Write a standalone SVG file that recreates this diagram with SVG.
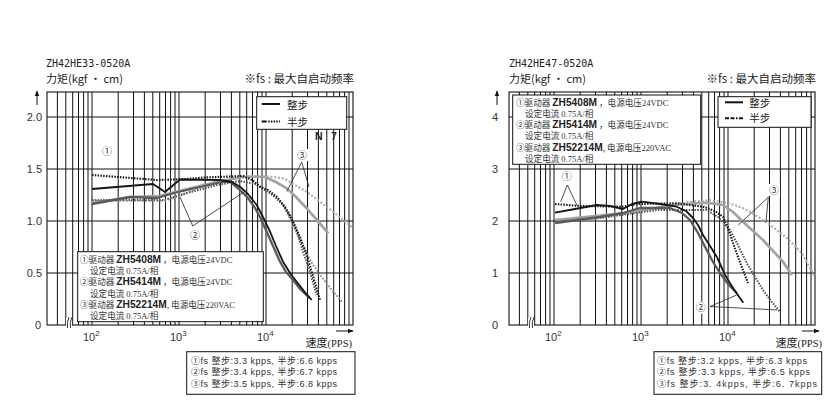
<svg xmlns="http://www.w3.org/2000/svg" xmlns:xlink="http://www.w3.org/1999/xlink" width="840" height="400" viewBox="0 0 840 400">
<style>
.bg{fill:#fff}
.frame{fill:none;stroke:#111;stroke-width:1.1}
.grid{fill:none;stroke:#111;stroke-width:1}
.box{fill:#fff;stroke:#111;stroke-width:1}
.c1s{fill:none;stroke:#151515;stroke-width:1.8;stroke-linejoin:round}
.c2s{fill:none;stroke:#5a5a5a;stroke-width:2.3;stroke-linejoin:round}
.c3s{fill:none;stroke:#a3a3a3;stroke-width:2.7;stroke-linejoin:round}
.c1d{fill:none;stroke:#151515;stroke-width:2.1;stroke-dasharray:1.5 1.3}
.c2d{fill:none;stroke:#555;stroke-width:2.1;stroke-dasharray:1.5 1.3}
.c4d{fill:none;stroke:#8a8a8a;stroke-width:1.9;stroke-dasharray:1.6 1.6}
.c3d{fill:none;stroke:#ababab;stroke-width:2.1;stroke-dasharray:2 1.8}
.ptr{fill:none;stroke:#222;stroke-width:0.8}
.t{font-family:"Liberation Sans","Noto Sans CJK SC",sans-serif;fill:#222}
.ttl{font-family:"DejaVu Sans Mono","Liberation Mono",monospace;font-size:10px;fill:#222}
.ax{font-family:"Liberation Sans",sans-serif;font-size:11px;fill:#333}
.cj{font-family:"Noto Sans CJK SC","Liberation Sans",sans-serif;fill:#222}
.lg{font-family:"Noto Sans CJK SC","Liberation Sans",sans-serif;font-size:8.6px;fill:#333}
.mdl{font-family:"Liberation Sans",sans-serif;font-weight:bold;font-size:10.2px;fill:#222}
.sf{font-family:"Liberation Serif",serif;font-size:8.5px}
.fs{font-family:"Liberation Sans","Noto Sans CJK SC",sans-serif;font-size:9px;fill:#333}
.cn{font-family:"Noto Sans CJK SC",sans-serif;font-size:10px;fill:#333;text-anchor:middle}
.arr{fill:none;stroke:#111;stroke-width:1}
</style>
<defs>
<marker id="ah" viewBox="0 0 10 10" refX="9" refY="5" markerWidth="6" markerHeight="6" orient="auto" markerUnits="userSpaceOnUse">
<path d="M0,1 L10,5 L0,9 z" fill="#111"/>
</marker>
<g id="grid">
<path class="grid" d="M57.4,92V325M65.8,92V325M72.7,92V325M78.5,92V325M83.6,92V325M88,92V325M92,92V325M118.2,92V325M133.5,92V325M144.4,92V325M152.8,92V325M159.7,92V325M165.5,92V325M170.6,92V325M175,92V325M179,92V325M205.2,92V325M220.5,92V325M231.4,92V325M239.8,92V325M246.7,92V325M252.5,92V325M257.6,92V325M262,92V325M266,92V325M292.2,92V325M307.5,92V325M318.4,92V325M326.8,92V325M333.7,92V325M339.5,92V325M344.6,92V325M349,92V325"/>
<path class="grid" d="M47,117H353M47,169H353M47,221H353M47,273H353"/>
<rect class="frame" x="47" y="92" width="306" height="233"/>
</g>
</defs>
<rect class="bg" x="0" y="0" width="840" height="400"/>

<!-- LEFT CHART -->
<g id="chart-left">
<text class="ttl" x="46" y="66.5">ZH42HE33-0520A</text>
<text class="cj" x="46" y="82.5" font-size="11">力矩(kgf · cm)</text>
<text class="cj" x="354" y="82.5" font-size="11.5" text-anchor="end">※fs : 最大自启动频率</text>
<use xlink:href="#grid"/>
<path class="arr" d="M37,105V91" marker-end="url(#ah)"/>
<g class="ax" text-anchor="end">
<text x="42" y="121">2.0</text>
<text x="42" y="173">1.5</text>
<text x="42" y="225">1.0</text>
<text x="42" y="277">0.5</text>
<text x="41" y="329">0</text>
</g>
<g class="ax">
<text x="83" y="341">10<tspan font-size="8" dy="-5">2</tspan></text>
<text x="170" y="341">10<tspan font-size="8" dy="-5">3</tspan></text>
<text x="257" y="341">10<tspan font-size="8" dy="-5">4</tspan></text>
</g>
<path class="arr" d="M336,331H353" marker-end="url(#ah)"/>
<text class="cj" x="352" y="347" font-size="11" text-anchor="end">速度<tspan font-family="Liberation Serif" font-size="10.5">(PPS)</tspan></text>
<g id="break-left">
<rect x="66" y="318" width="6" height="10" fill="#fff"/>
<path d="M67.5,328 Q66.5,322 69,317 M70.5,328 Q69.5,322 72,317" fill="none" stroke="#222" stroke-width="0.9"/>
</g>
</g>

<g id="curves-left">
<path class="c3d" d="M92,201 L164,201 L187,193 L203,186 L220,181 L240,177 L273,176.7 L285,179 L295,185 L307,192 L320,201.7 L336,214 L353,228"/>
<path class="c4d" d="M283,205 L293,225 L303,246 L313,265 L327,284 L341.7,301.7"/>
<path class="c3s" d="M92,203 L130,197 L160,196 L183,190 L200,186 L220,181 L247,176.5 L265,177 L276,182 L286.7,188.3 L296,197 L306.7,208.3 L317,220 L328.3,233.3"/>
<path class="c2d" d="M92,200 L164,200 L187,193 L217,185 L240,181 L255,184 L265,190 L275,197 L283,205 L290,215 L297,232 L303,251.7 L310,272 L316.7,295"/>
<path class="c1d" d="M92,175 L157,180 L187,179 L204,177.5 L243,176 L252,180 L260,186.7 L268,190 L276.7,196.7 L285,207 L293,221.7 L300,237 L306.7,255 L313,276 L320,300"/>
<path class="c2s" d="M92,204 L130,197 L157,198 L174,193 L200,187 L222,182 L230,181.5 L240,190 L248,198 L255,208 L261,219 L266.7,231.7 L273,246 L280,261.7 L286,272 L293,280 L301,290 L310,298.3"/>
<path class="c1s" d="M92,189 L153,184 L165,192 L180,179.5 L220,180 L232,182 L240,186.7 L248,194 L256.7,205 L263,217 L270,231.7 L276,246 L283,261.7 L290,273 L296.7,281.7 L304,291 L311.7,300"/>
</g>

<g id="pointers-left">
<path class="ptr" d="M180,197 L192.7,226 L244,192"/>
<path class="ptr" d="M286.7,191.7 L301.7,162 L309,187"/>
<rect x="101" y="145" width="12" height="12" fill="#fff"/>
<text class="cn" x="107" y="154.5">①</text>
<rect x="189" y="229" width="12" height="12" fill="#fff"/>
<text class="cn" x="195" y="238.5">②</text>
<rect x="296" y="149" width="12" height="12" fill="#fff"/>
<text class="cn" x="302" y="158.5">③</text>
<text class="t" x="315" y="139.5" font-size="10.5" font-weight="bold" fill="#111">N</text>
<text class="t" x="331" y="139.5" font-size="10.5" font-weight="bold" fill="#111">7</text>
</g>

<g id="legend-left-steps">
<rect class="box" x="256.7" y="96.7" width="90" height="32.6"/>
<path d="M261.7,104H280" stroke="#111" stroke-width="2"/>
<path d="M261.7,121.5H280" stroke="#111" stroke-width="2" stroke-dasharray="5 1.5 1.5 1.2 1.5 1.2 1.5 1.2 1.5 1.2"/>
<text class="cj" x="287" y="108.5" font-size="10.5">整步</text>
<text class="cj" x="287" y="125.5" font-size="10.5">半步</text>
</g>

<g id="legend-left-drivers">
<rect class="box" x="77.7" y="251.7" width="185.6" height="70"/>
<text class="lg" x="80" y="262.5">①驱动器 <tspan class="mdl">ZH5408M</tspan> ，电源电压<tspan class="sf">24VDC</tspan></text>
<text class="lg" x="90" y="273.8">设定电流 <tspan class="sf">0.75A/</tspan>相</text>
<text class="lg" x="80" y="285.2">②驱动器 <tspan class="mdl">ZH5414M</tspan> ，电源电压<tspan class="sf">24VDC</tspan></text>
<text class="lg" x="90" y="296.5">设定电流 <tspan class="sf">0.75A/</tspan>相</text>
<text class="lg" x="80" y="307.8">③驱动器 <tspan class="mdl">ZH52214M</tspan>, 电源电压<tspan class="sf">220VAC</tspan></text>
<text class="lg" x="90" y="319">设定电流 <tspan class="sf">0.75A/</tspan>相</text>
</g>

<g id="fs-left">
<rect class="box" x="186.7" y="351.7" width="168.3" height="42.6"/>
<text class="fs" x="191" y="363.5" textLength="146" lengthAdjust="spacing">①fs  整步:3.3 kpps, 半步:6.6 kpps</text>
<text class="fs" x="191" y="375" textLength="146" lengthAdjust="spacing">②fs  整步:3.4 kpps, 半步:6.7 kpps</text>
<text class="fs" x="191" y="386.5" textLength="146" lengthAdjust="spacing">③fs  整步:3.5 kpps, 半步:6.8 kpps</text>
</g>

<!-- RIGHT CHART -->
<g id="chart-right">
<text class="ttl" x="509" y="66.5">ZH42HE47-0520A</text>
<text class="cj" x="509" y="82.5" font-size="11">力矩(kgf · cm)</text>
<text class="cj" x="816" y="82.5" font-size="11.5" text-anchor="end">※fs : 最大自启动频率</text>
<use xlink:href="#grid" x="462"/>
<path class="arr" d="M497,105V91" marker-end="url(#ah)"/>
<g class="ax">
<text x="492" y="121">4</text>
<text x="492" y="173">3</text>
<text x="492" y="225">2</text>
<text x="492" y="277">1</text>
<text x="492" y="329">0</text>
</g>
<g class="ax">
<text x="545" y="341">10<tspan font-size="8" dy="-5">2</tspan></text>
<text x="632" y="341">10<tspan font-size="8" dy="-5">3</tspan></text>
<text x="719" y="341">10<tspan font-size="8" dy="-5">4</tspan></text>
</g>
<path class="arr" d="M802,331H819" marker-end="url(#ah)"/>
<text class="cj" x="822" y="347" font-size="11" text-anchor="end">速度<tspan font-family="Liberation Serif" font-size="10.5">(PPS)</tspan></text>
<g id="break-right">
<rect x="528" y="318" width="6" height="10" fill="#fff"/>
<path d="M529.5,328 Q528.5,322 531,317 M532.5,328 Q531.5,322 534,317" fill="none" stroke="#222" stroke-width="0.9"/>
</g>
</g>

<g id="curves-right">
<path class="c3d" d="M555,222 L623,214 L680,203 L710,200 L728,203 L743,208 L760,218 L776.7,230 L790,241 L801.7,253 L815,276.7"/>
<path class="c3s" d="M555,220 L623,213.3 L673,205 L706.7,202.7 L723,205 L733,212 L743,221.7 L763,240 L783,261.7 L791.7,275"/>
<path class="c2d" d="M555,221.7 L600,218 L656.7,210 L706.7,210 L718,217 L730,230 L738,245 L746.7,263 L755,277 L763,290 L771,301 L780,311.7"/>
<path class="c1d" d="M555,204 L580,206 L623,206.7 L636.7,204 L676.7,203.3 L703,206.7 L715,211 L723,216.7 L728,228 L733,243 L738,257 L743,270 L748,283"/>
<path class="c2s" d="M555,223 L600,217 L623,213 L640,208 L670,208 L682,213 L690,220 L698,233 L706.7,250 L713,262 L720,273 L728,284 L736.7,293"/>
<path class="c1s" d="M555,212.7 L575,209 L596.7,205 L610,206 L623,209 L632,204 L641.7,201.7 L660,204 L676.7,206.7 L686,211 L693,218 L698,225 L703,235 L710,246 L716.7,256.7 L721,266 L725,275 L733,288 L743.3,302.7"/>
</g>

<g id="pointers-right">
<path class="ptr" d="M560.7,201.7 L567.3,185 L577.3,206"/>
<path class="ptr" d="M738.3,225 L768.3,197.3 L766,221.7"/>
<path class="ptr" d="M736.7,295 L710,306.5 L777.3,310"/>
<rect x="560.7" y="170" width="12" height="12" fill="#fff"/>
<text class="cn" x="566.7" y="179.5">①</text>
<rect x="768" y="184" width="12" height="12" fill="#fff"/>
<text class="cn" x="774" y="193.5">③</text>
<rect x="694.7" y="301.7" width="12" height="12" fill="#fff"/>
<text class="cn" x="700.7" y="311.2">②</text>
</g>

<g id="legend-right-steps">
<rect class="box" x="718" y="96.7" width="93" height="30.6"/>
<path d="M725,102.3H743" stroke="#111" stroke-width="2"/>
<path d="M725,118.3H743" stroke="#111" stroke-width="2" stroke-dasharray="4 1.5 4 1.5 1.5 1.5"/>
<text class="cj" x="749.3" y="106.5" font-size="10.5">整步</text>
<text class="cj" x="749.3" y="121.8" font-size="10.5">半步</text>
</g>

<g id="legend-right-drivers">
<rect class="box" x="512.7" y="95" width="188" height="69.3"/>
<text class="lg" x="516" y="105.5">①驱动器 <tspan class="mdl">ZH5408M</tspan> ，电源电压<tspan class="sf">24VDC</tspan></text>
<text class="lg" x="525" y="116.8">设定电流 <tspan class="sf">0.75A/</tspan>相</text>
<text class="lg" x="516" y="128.1">②驱动器 <tspan class="mdl">ZH5414M</tspan> ，电源电压<tspan class="sf">24VDC</tspan></text>
<text class="lg" x="525" y="139.4">设定电流 <tspan class="sf">0.75A/</tspan>相</text>
<text class="lg" x="516" y="150.7">③驱动器 <tspan class="mdl">ZH52214M</tspan>, 电源电压<tspan class="sf">220VAC</tspan></text>
<text class="lg" x="525" y="162">设定电流 <tspan class="sf">0.75A/</tspan>相</text>
</g>

<g id="fs-right">
<rect class="box" x="654" y="351.7" width="167.7" height="42.6"/>
<text class="fs" x="657" y="363.5" textLength="150" lengthAdjust="spacing">①fs  整步:3.2 kpps, 半步:6.3 kpps</text>
<text class="fs" x="657" y="375" textLength="153" lengthAdjust="spacing">②fs  整步:3.3 kpps, 半步:6.5 kpps</text>
<text class="fs" x="657" y="386.5" textLength="160" lengthAdjust="spacing">③fs  整步:3. 4kpps, 半步:6. 7kpps</text>
</g>
</svg>
